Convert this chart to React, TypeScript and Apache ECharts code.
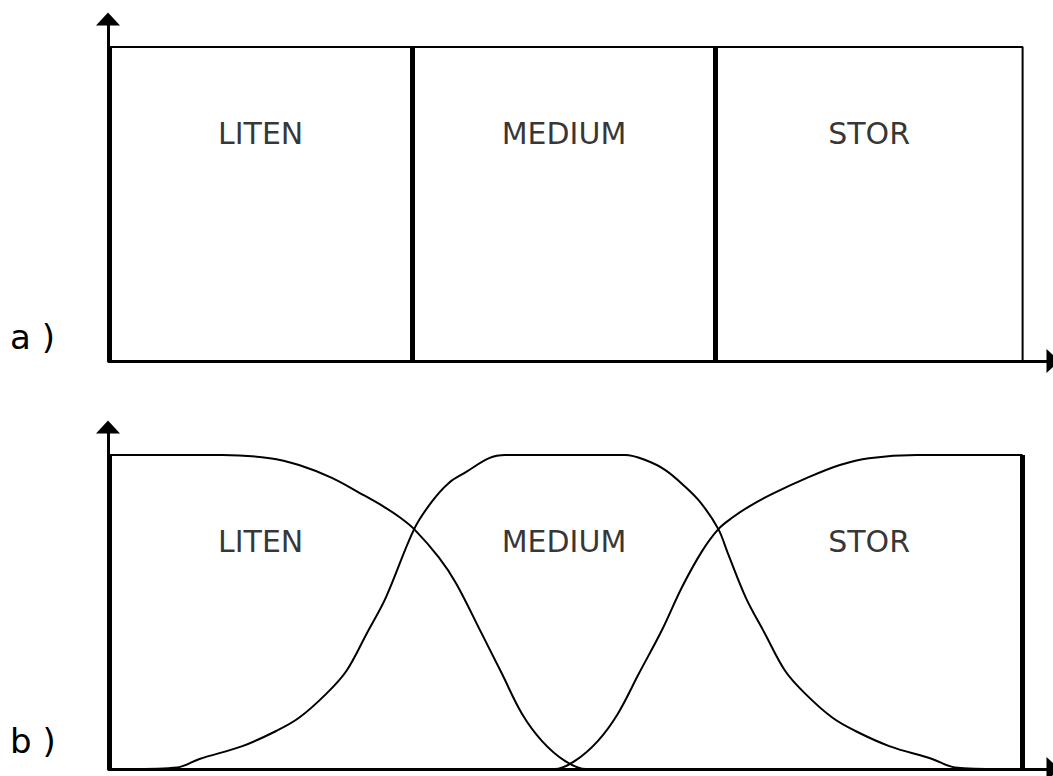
import React, { useEffect, useRef } from "react";
import * as echarts from "echarts";

// ---- data ----
const setNames = ["LITEN", "MEDIUM", "STOR"];
// crisp set boundaries (x in % of the universe)
const crispBounds = [0, 33.2, 66.4, 100];
const labelMembership = 0.725;

// fuzzy membership functions [x, μ]
const litenFuzzy: number[][] = [
  [0, 1], [12.4, 1], [17.6, 0.99], [20.8, 0.968], [24.4, 0.927], [27.5, 0.878],
  [30.1, 0.835], [31.9, 0.8], [33.4, 0.764], [36.1, 0.674], [38.0, 0.591],
  [40.8, 0.431], [43.0, 0.304], [45.2, 0.176], [47.4, 0.089], [49.9, 0.026],
  [52.2, 0], [100, 0],
];
const mediumFuzzy: number[][] = [
  [0, 0], [2.3, 0], [7.5, 0.005], [9.9, 0.032], [14.6, 0.073], [18.3, 0.121],
  [20.8, 0.163], [23.8, 0.24], [26.0, 0.313], [28.2, 0.431], [30.3, 0.546],
  [33.4, 0.764], [35.3, 0.85], [37.2, 0.911], [39.1, 0.946], [41.6, 0.99],
  [43.4, 1], [56.5, 1], [58.7, 0.984], [60.9, 0.952], [63.1, 0.898], [64.8, 0.847],
  [66.7, 0.764], [67.7, 0.69], [69.7, 0.546], [71.8, 0.431], [74.0, 0.313],
  [76.2, 0.24], [79.2, 0.163], [81.7, 0.121], [85.4, 0.073], [90.1, 0.032],
  [92.6, 0.005], [97.6, 0], [100, 0],
];
const storFuzzy: number[][] = [
  [0, 0], [48.8, 0], [51.0, 0.026], [53.5, 0.089], [55.7, 0.176], [58.0, 0.304],
  [60.5, 0.441], [62.7, 0.578], [64.9, 0.693], [66.7, 0.764], [68.2, 0.8],
  [70.0, 0.835], [72.6, 0.876], [76.4, 0.927], [80.0, 0.968], [83.2, 0.99],
  [88.4, 1], [100, 1],
];
const panelLabels = ["a )", "b )"];

// ---- layout ----
const W = 1053;
const H = 776;
const X0 = 109; // px of x = 0
const X100 = 1025.5; // px of x = 100
const GRID_RIGHT_PX = 1056;
const xMax = (100 * (GRID_RIGHT_PX - X0)) / (X100 - X0);
const panelA = { top: 19, bottom0: 361, one: 47 };
const panelB = { top: 427, bottom0: 769, one: 455 };
const yMax = (panelA.bottom0 - panelA.top) / (panelA.bottom0 - panelA.one);

const black = "#000";
const labelFont = '"DejaVu Sans", sans-serif';

export default function App() {
  const ref = useRef<HTMLDivElement>(null);
  useEffect(() => {
    if (!ref.current) return;
    const chart = echarts.init(ref.current, null, { renderer: "svg" });

    const axisLine = (w: number) => ({
      show: true,
      onZero: false,
      symbol: ["none", "triangle"],
      symbolSize: [24, 13],
      lineStyle: { color: black, width: w },
    });
    const xAxisBase = (gi: number) => ({
      type: "value",
      gridIndex: gi,
      min: 0,
      max: xMax,
      axisLine: axisLine(3),
      axisTick: { show: false },
      axisLabel: { show: false },
      splitLine: { show: false },
    });
    const yAxisBase = (gi: number) => ({
      type: "value",
      gridIndex: gi,
      min: 0,
      max: yMax,
      offset: 1,
      axisLine: axisLine(3),
      axisTick: { show: false },
      axisLabel: { show: false },
      splitLine: { show: false },
    });

    const thinLine = { color: black, width: 2 };
    const thick = 5;

    const crispSeries = setNames.map((name, i) => {
      const lo = crispBounds[i];
      const hi = crispBounds[i + 1];
      return {
        type: "line",
        name: "crisp-" + name,
        xAxisIndex: 0,
        yAxisIndex: 0,
        symbol: "none",
        silent: true,
        lineStyle: thinLine,
        data: [[lo, 0], [lo, 1], [hi, 1], [hi, 0]],
        markLine: {
          symbol: "none",
          silent: true,
          label: { show: false },
          lineStyle: { color: black, width: thick, type: "solid" },
          data: [[{ coord: [lo, 0] }, { coord: [lo, 1] }]],
        },
      };
    });

    const fuzzyData = [litenFuzzy, mediumFuzzy, storFuzzy];
    const fuzzySeries = setNames.map((name, i) => ({
      type: "line",
      name: "fuzzy-" + name,
      xAxisIndex: 1,
      yAxisIndex: 1,
      symbol: "none",
      silent: true,
      smooth: 0.35,
      lineStyle: thinLine,
      data: fuzzyData[i],
      ...(i === 0
        ? {
            markLine: {
              symbol: "none",
              silent: true,
              label: { show: false },
              lineStyle: { color: black, width: thick, type: "solid" },
              data: [
                [{ coord: [crispBounds[0], 0] }, { coord: [crispBounds[0], 1] }],
                [{ coord: [crispBounds[3], 0] }, { coord: [crispBounds[3], 1] }],
              ],
            },
          }
        : {}),
    }));

    const labelSeries = [0, 1].map((gi) => ({
      type: "scatter",
      xAxisIndex: gi,
      yAxisIndex: gi,
      symbolSize: 1,
      silent: true,
      itemStyle: { color: "rgba(0,0,0,0)" },
      label: {
        show: true,
        position: "inside",
        formatter: (p: any) => p.value[2],
        color: black,
        fontSize: 30,
        fontFamily: labelFont,
        textBorderWidth: 0,
      },
      data: setNames.map((n, i) => [
        (crispBounds[i] + crispBounds[i + 1]) / 2,
        labelMembership,
        n,
      ]),
    }));

    chart.setOption({
      animation: false,
      backgroundColor: "#fff",
      grid: [
        { left: X0, top: panelA.top, right: W - GRID_RIGHT_PX, bottom: H - panelA.bottom0 },
        { left: X0, top: panelB.top, right: W - GRID_RIGHT_PX, bottom: H - panelB.bottom0 },
      ],
      xAxis: [xAxisBase(0), xAxisBase(1)],
      yAxis: [yAxisBase(0), yAxisBase(1)],
      series: [...crispSeries, ...fuzzySeries, ...labelSeries],
      graphic: [
        {
          type: "text",
          left: 10,
          top: 320,
          style: { text: panelLabels[0], font: "34px " + labelFont, fill: black },
        },
        {
          type: "text",
          left: 10,
          top: 724,
          style: { text: panelLabels[1], font: "34px " + labelFont, fill: black },
        },
      ],
    });
    return () => chart.dispose();
  }, []);
  return (
    <div
      ref={ref}
      style={{ position: "fixed", left: 0, top: 0, width: W, height: H }}
    />
  );
}
